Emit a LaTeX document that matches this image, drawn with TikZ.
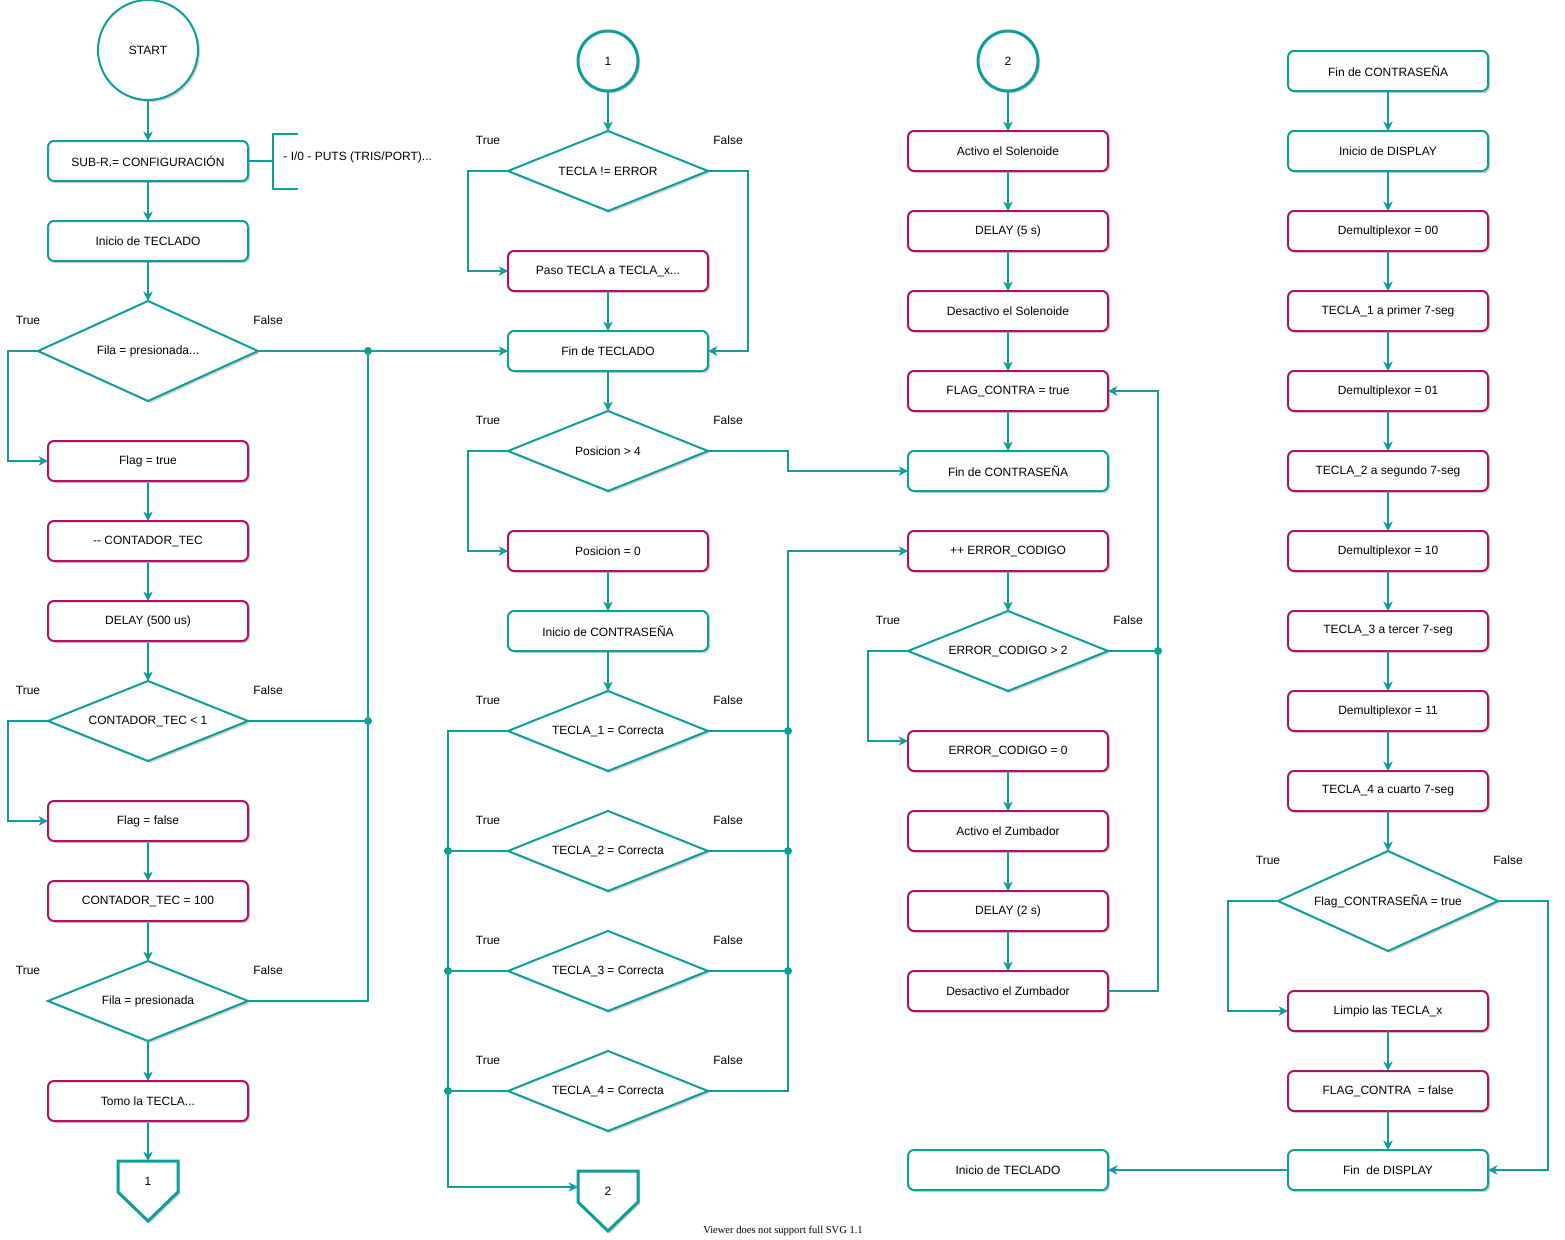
\documentclass[tikz,border=0pt]{standalone}
\usepackage{fontspec}
\setmainfont{Liberation Sans}
\newfontfamily\notefont{Liberation Serif}
\usetikzlibrary{shapes.geometric}
\usetikzlibrary{arrows.meta}
\usetikzlibrary{shadows}
\usetikzlibrary{backgrounds}
\definecolor{flowteal}{HTML}{0F9D9A}
\definecolor{flowred}{HTML}{AD1263}
\tikzset{
	every node/.style={font=\fontsize{9}{11}\selectfont,outer sep=0pt},
	soft/.style={drop shadow={shadow xshift=1.5pt,shadow yshift=-1.5pt,opacity=0.18,fill=black}},
	box/.style={rectangle,draw=flowteal,line width=1.5pt,rounded corners=4.5pt,fill=white,minimum width=150pt,minimum height=30pt,soft},
	task/.style={box,draw=flowred},
	cond/.style={diamond,draw=flowteal,line width=1.5pt,fill=white,aspect=2.5,inner sep=0pt,minimum width=150pt,minimum height=60pt,soft},
	bigcond/.style={cond,minimum width=165pt,minimum height=75pt},
	endpt/.style={circle,draw=flowteal,line width=1.5pt,fill=white,minimum size=75pt,soft},
	linkpt/.style={circle,draw=flowteal,line width=2.25pt,fill=white,minimum size=45pt,soft},
	pagebox/.style={rectangle,minimum width=45pt,minimum height=30pt},
	pageline/.style={draw=flowteal,line width=2.25pt,fill=white,soft},
	flow/.style={draw=flowteal,line width=1.5pt,-{Stealth[length=7pt,width=7pt,inset=2pt]}},
	link/.style={draw=flowteal,line width=1.5pt},
	junct/.style={fill=flowteal},
}

\begin{document}
\begin{tikzpicture}[x=0.75pt,y=-0.75pt]
	\useasboundingbox (0,0) rectangle (1565,1239);

	% first column: keypad.....................
	\node [endpt] (start) at (148,50) {START};
	\node [box] (sub) at (148,161) {SUB-R.= CONFIGURACIÓN};
	\node [box] (iniTec) at (148,241) {Inicio de TECLADO};
	\node [bigcond] (fila1) at (148,351) {Fila = presionada...};
	\node [task] (flagT) at (148,461) {Flag = true};
	\node [task] (decTec) at (148,541) {-{}- CONTADOR\_TEC};
	\node [task] (del500) at (148,621) {DELAY (500 us)};
	\node [cond] (cnt) at (148,721) {CONTADOR\_TEC < 1};
	\node [task] (flagF) at (148,821) {Flag = false};
	\node [task] (cnt100) at (148,901) {CONTADOR\_TEC = 100};
	\node [cond] (fila2) at (148,1001) {Fila = presionada};
	\node [task] (tomo) at (148,1101) {Tomo la TECLA...};
	\node [pagebox] (c1) at (148,1181) {1};

	% note on the config box...................
	\node [anchor=west] (io) at (279,157) {- I/0 - PUTS (TRIS/PORT)...};
	\coordinate (brk) at (273,161);
	\draw [link] (sub.east) -- (brk);
	\draw [link] (298,134) -- (273,134) -- (273,189) -- (298,189);

	% second column: key check.................
	\node [linkpt] (con1) at (608,61) {1};
	\node [cond] (tecErr) at (608,171) {TECLA != ERROR};
	\node [task] (paso) at (608,271) {Paso TECLA a TECLA\_x...};
	\node [box] (finTec) at (608,351) {Fin de TECLADO};
	\node [cond] (posi) at (608,451) {Posicion > 4};
	\node [task] (pos0) at (608,551) {Posicion = 0};
	\node [box] (iniCon) at (608,631) {Inicio de CONTRASEÑA};
	\node [cond] (k1) at (608,731) {TECLA\_1 = Correcta};
	\node [cond] (k2) at (608,851) {TECLA\_2 = Correcta};
	\node [cond] (k3) at (608,971) {TECLA\_3 = Correcta};
	\node [cond] (k4) at (608,1091) {TECLA\_4 = Correcta};
	\node [pagebox] (c2) at (608,1191) {2};

	% third column: lock.......................
	\node [linkpt] (con2) at (1008,61) {2};
	\node [task] (sol1) at (1008,151) {Activo el Solenoide};
	\node [task] (del5) at (1008,231) {DELAY (5 s)};
	\node [task] (sol0) at (1008,311) {Desactivo el Solenoide};
	\node [task] (flagC) at (1008,391) {FLAG\_CONTRA = true};
	\node [box] (finCon) at (1008,471) {Fin de CONTRASEÑA};
	\node [task] (errInc) at (1008,551) {++ ERROR\_CODIGO};
	\node [cond] (errDia) at (1008,651) {ERROR\_CODIGO > 2};
	\node [task] (err0) at (1008,751) {ERROR\_CODIGO = 0};
	\node [task] (zum1) at (1008,831) {Activo el Zumbador};
	\node [task] (del2) at (1008,911) {DELAY (2 s)};
	\node [task] (zum0) at (1008,991) {Desactivo el Zumbador};
	\node [box] (iniTec2) at (1008,1170) {Inicio de TECLADO};

	% fourth column: display...................
	\node [box] (finCon2) at (1388,71) {Fin de CONTRASEÑA};
	\node [box] (iniDis) at (1388,151) {Inicio de DISPLAY};
	\node [task] (dm00) at (1388,231) {Demultiplexor = 00};
	\node [task] (seg1) at (1388,311) {TECLA\_1 a primer 7-seg};
	\node [task] (dm01) at (1388,391) {Demultiplexor = 01};
	\node [task] (seg2) at (1388,471) {TECLA\_2 a segundo 7-seg};
	\node [task] (dm10) at (1388,551) {Demultiplexor = 10};
	\node [task] (seg3) at (1388,631) {TECLA\_3 a tercer 7-seg};
	\node [task] (dm11) at (1388,711) {Demultiplexor = 11};
	\node [task] (seg4) at (1388,791) {TECLA\_4 a cuarto 7-seg};
	\node [bigcond] (flagDia) at (1388,901) {Flag\_CONTRASEÑA = true};
	\node [task] (limp) at (1388,1011) {Limpio las TECLA\_x};
	\node [task] (flagF2) at (1388,1091) {FLAG\_CONTRA\ \ = false};
	\node [box] (finDis) at (1388,1170) {Fin\ \ de DISPLAY};

	% off-page shapes..........................
	\begin{pgfonlayer}{background}
		\draw [pageline] (c1.north west) -- (c1.north east) -- ([yshift=-23.25pt]c1.north east)
			-- ([yshift=-45pt]c1.north) -- ([yshift=-23.25pt]c1.north west) -- cycle;
		\draw [pageline] (c2.north west) -- (c2.north east) -- ([yshift=-23.25pt]c2.north east)
			-- ([yshift=-45pt]c2.north) -- ([yshift=-23.25pt]c2.north west) -- cycle;
	\end{pgfonlayer}

	% True / False labels......................
	\node (t1) at (28,320) {True};
	\node (f1) at (268,320) {False};
	\node (t2) at (28,690) {True};
	\node (f2) at (268,690) {False};
	\node (t3) at (28,970) {True};
	\node (f3) at (268,970) {False};
	\node (t4) at (488,140) {True};
	\node (f4) at (728,140) {False};
	\node (t5) at (488,420) {True};
	\node (f5) at (728,420) {False};
	\node (t6) at (488,700) {True};
	\node (f6) at (728,700) {False};
	\node (t7) at (488,820) {True};
	\node (f7) at (728,820) {False};
	\node (t8) at (488,940) {True};
	\node (f8) at (728,940) {False};
	\node (t9) at (488,1060) {True};
	\node (f9) at (728,1060) {False};
	\node (t10) at (888,620) {True};
	\node (f10) at (1128,620) {False};
	\node (t11) at (1268,860) {True};
	\node (f11) at (1508,860) {False};

	% junctions................................
	\coordinate (j1) at (368,351);
	\coordinate (j2) at (368,721);
	\coordinate (l2) at (448,851);
	\coordinate (l3) at (448,971);
	\coordinate (l4) at (448,1091);
	\coordinate (r1) at (788,731);
	\coordinate (r2) at (788,851);
	\coordinate (r3) at (788,971);
	\coordinate (e1) at (1158,651);

	% first column arrows......................
	\draw [flow] (start) -- (sub);
	\draw [flow] (sub) -- (iniTec);
	\draw [flow] (iniTec) -- (fila1);
	\draw [flow] (fila1.west) -- ++(-30,0) |- (flagT);
	\draw [flow] (flagT) -- (decTec);
	\draw [flow] (decTec) -- (del500);
	\draw [flow] (del500) -- (cnt);
	\draw [flow] (cnt.west) -- ++(-40,0) |- (flagF);
	\draw [flow] (flagF) -- (cnt100);
	\draw [flow] (cnt100) -- (fila2);
	\draw [flow] (fila2) -- (tomo);
	\draw [flow] (tomo) -- (c1);
	\draw [flow] (fila1.east) -- (finTec.west);
	\draw [link] (fila2.east) -| (j1);
	\draw [link] (cnt.east) -- (j2);

	% second column arrows.....................
	\draw [flow] (con1) -- (tecErr);
	\draw [flow] (tecErr.west) -- ++(-40,0) |- (paso);
	\draw [flow] (tecErr.east) -- ++(40,0) |- (finTec);
	\draw [flow] (paso) -- (finTec);
	\draw [flow] (finTec) -- (posi);
	\draw [flow] (posi.west) -- ++(-40,0) |- (pos0);
	\draw [flow] (posi.east) -- ++(80,0) |- (finCon);
	\draw [flow] (pos0) -- (iniCon);
	\draw [flow] (iniCon) -- (k1);
	\draw [flow] (k1.west) -- ++(-60,0) |- ([yshift=3pt]c2.west);
	\draw [link] (k2.west) -- (l2);
	\draw [link] (k3.west) -- (l3);
	\draw [link] (k4.west) -- (l4);
	\draw [flow] (k4.east) -- ++(80,0) |- (errInc);
	\draw [link] (k1.east) -- (r1);
	\draw [link] (k2.east) -- (r2);
	\draw [link] (k3.east) -- (r3);

	% third column arrows......................
	\draw [flow] (con2) -- (sol1);
	\draw [flow] (sol1) -- (del5);
	\draw [flow] (del5) -- (sol0);
	\draw [flow] (sol0) -- (flagC);
	\draw [flow] (flagC) -- (finCon);
	\draw [flow] (errInc) -- (errDia);
	\draw [flow] (errDia.west) -- ++(-40,0) |- ([yshift=7.5pt]err0.west);
	\draw [link] (errDia.east) -- (e1);
	\draw [flow] (err0) -- (zum1);
	\draw [flow] (zum1) -- (del2);
	\draw [flow] (del2) -- (zum0);
	\draw [flow] (zum0.east) -- ++(50,0) |- (flagC);

	% fourth column arrows.....................
	\draw [flow] (finCon2) -- (iniDis);
	\draw [flow] (iniDis) -- (dm00);
	\draw [flow] (dm00) -- (seg1);
	\draw [flow] (seg1) -- (dm01);
	\draw [flow] (dm01) -- (seg2);
	\draw [flow] (seg2) -- (dm10);
	\draw [flow] (dm10) -- (seg3);
	\draw [flow] (seg3) -- (dm11);
	\draw [flow] (dm11) -- (seg4);
	\draw [flow] (seg4) -- (flagDia);
	\draw [flow] (flagDia.west) -- ++(-50,0) |- (limp);
	\draw [flow] (flagDia.east) -- ++(50,0) |- (finDis);
	\draw [flow] (limp) -- (flagF2);
	\draw [flow] (flagF2) -- (finDis);
	\draw [flow] (finDis) -- (iniTec2);

	% junction dots............................
	\foreach \p in {j1,j2,l2,l3,l4,r1,r2,r3,e1}
		\fill [junct] (\p) circle (4);

	% viewer note..............................
	\node [font=\notefont\fontsize{7.9}{9}\selectfont] (note) at (783,1231) {Viewer does not support full SVG 1.1};

\end{tikzpicture}
\end{document}
